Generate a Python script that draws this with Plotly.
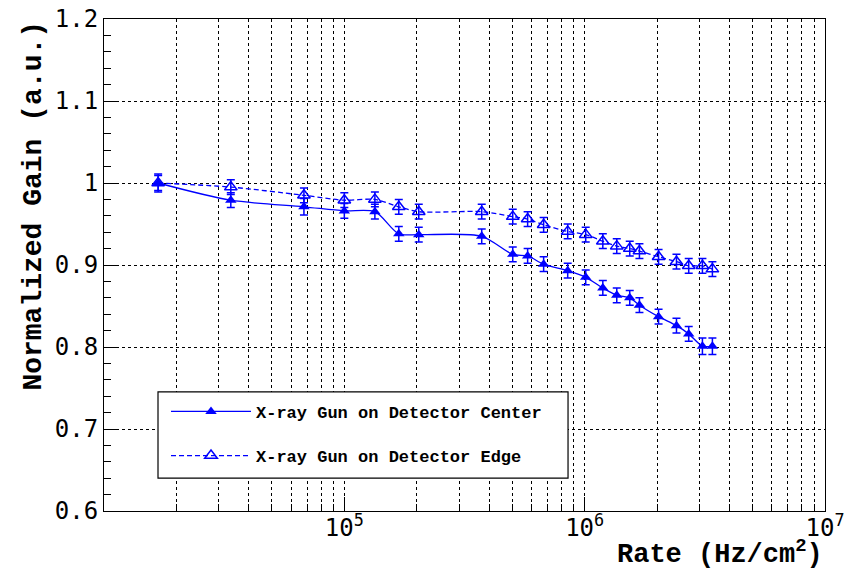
import plotly.graph_objects as go

# Data
rate_center = [1.68e4, 3.37e4, 6.79e4, 1.00e5, 1.34e5, 1.685e5, 2.04e5, 3.73e5, 5.02e5, 5.79e5,
               6.75e5, 8.50e5, 1.01e6, 1.19e6, 1.36e6, 1.54e6, 1.69e6, 2.03e6, 2.41e6, 2.71e6,
               3.09e6, 3.40e6]
gain_center = [1.000, 0.979, 0.971, 0.966, 0.965, 0.938, 0.937, 0.935, 0.913, 0.911,
               0.901, 0.893, 0.885, 0.872, 0.863, 0.860, 0.851, 0.837, 0.826, 0.816,
               0.801, 0.801]
err_center = [0.011, 0.009, 0.010, 0.009, 0.009, 0.009, 0.009, 0.009, 0.009, 0.009,
              0.009, 0.009, 0.009, 0.009, 0.009, 0.009, 0.009, 0.009, 0.009, 0.009,
              0.010, 0.010]

rate_edge = rate_center
gain_edge = [1.000, 0.995, 0.985, 0.979, 0.980, 0.971, 0.965, 0.965, 0.959, 0.956,
             0.949, 0.941, 0.937, 0.929, 0.923, 0.920, 0.917, 0.910, 0.904, 0.899,
             0.899, 0.895]
err_edge = [0.009, 0.009, 0.009, 0.009, 0.009, 0.009, 0.009, 0.009, 0.009, 0.009,
            0.009, 0.009, 0.009, 0.009, 0.009, 0.009, 0.009, 0.009, 0.009, 0.009,
            0.009, 0.009]

name_center = "X-ray Gun on Detector Center"
name_edge = "X-ray Gun on Detector Edge"

x_major = [1e5, 1e6, 1e7]
x_major_text = ["10<sup>5</sup>", "10<sup>6</sup>", "10<sup>7</sup>"]
x_minor = [m * 10 ** e for e in (4, 5, 6) for m in range(2, 10)]

FONT = "Liberation Mono"
TICKFONT = "DejaVu Sans Mono"
BLUE = "#0000ff"

fig = go.Figure()
fig.add_trace(go.Scatter(
    x=rate_center, y=gain_center, name=name_center, mode="lines+markers",
    line=dict(color=BLUE, width=1.3, shape="spline", smoothing=0.8),
    marker=dict(symbol="triangle-up", size=10, color=BLUE),
    error_y=dict(type="data", array=err_center, color=BLUE, thickness=1.5, width=4),
    legendgroup="a",
))
fig.add_trace(go.Scatter(
    x=rate_edge, y=gain_edge, name=name_edge, mode="lines+markers",
    line=dict(color=BLUE, width=1.3, dash="5px,3px", shape="spline", smoothing=0.8),
    marker=dict(symbol="triangle-up-open", size=11, color=BLUE, line=dict(width=1.5)),
    error_y=dict(type="data", array=err_edge, color=BLUE, thickness=1.5, width=4),
    legendgroup="b",
))

# legend frame (box drawn as a shape, entries by plotly's legend)
fig.add_shape(type="rect", xref="paper", yref="paper",
              x0=0.0749, x1=0.6436, y0=0.067, y1=0.242,
              line=dict(color="black", width=1.2), fillcolor="white", layer="above")

fig.update_layout(
    width=860, height=573,
    margin=dict(l=96, r=43, t=11, b=70, autoexpand=False),
    paper_bgcolor="white", plot_bgcolor="white",
    font=dict(family=FONT, color="black"),
    showlegend=True,
    legend=dict(
        x=0.086, y=0.238, xanchor="left", yanchor="top",
        bgcolor="rgba(0,0,0,0)", borderwidth=0,
        font=dict(family=FONT, size=17, weight="bold"),
        itemwidth=80, tracegroupgap=19,
        traceorder="grouped",
    ),
    xaxis=dict(
        type="log", range=[4, 7], automargin=False,
        tickvals=x_major, ticktext=x_major_text,
        ticks="inside", ticklen=14, tickcolor="black", tickwidth=1,
        tickfont=dict(family=TICKFONT, size=24),
        ticklabelstandoff=-5, ticklabeloverflow="allow",
        showgrid=True, gridcolor="black", griddash="dot", gridwidth=1,
        showline=True, linecolor="black", linewidth=1, mirror=True,
        zeroline=False,
        minor=dict(tickvals=x_minor, ticks="inside", ticklen=7, tickcolor="black",
                   showgrid=True, gridcolor="black", griddash="dot", gridwidth=1),
    ),
    yaxis=dict(
        range=[0.6, 1.2], dtick=0.1, tick0=0.6, automargin=False,
        ticks="inside", ticklen=14, tickcolor="black", tickwidth=1,
        tickfont=dict(family=TICKFONT, size=24),
        ticklabeloverflow="allow",
        showgrid=True, gridcolor="black", griddash="dot", gridwidth=1,
        showline=True, linecolor="black", linewidth=1, mirror=True,
        zeroline=False,
        minor=dict(dtick=0.02, ticks="inside", ticklen=7, tickcolor="black", showgrid=False),
    ),
)

fig.add_annotation(
    text="Rate (Hz/cm<sup>2</sup>)", xref="paper", yref="paper",
    x=1.0, y=-0.124, xanchor="right", yanchor="bottom", showarrow=False,
    font=dict(family=FONT, size=27, weight="bold"),
)
fig.add_annotation(
    text="Normalized Gain (a.u.)", xref="paper", yref="paper",
    x=-0.099, y=1.0, xanchor="center", yanchor="top", textangle=-90, showarrow=False,
    font=dict(family=FONT, size=28, weight="bold"),
)

fig.write_html("out.html")
